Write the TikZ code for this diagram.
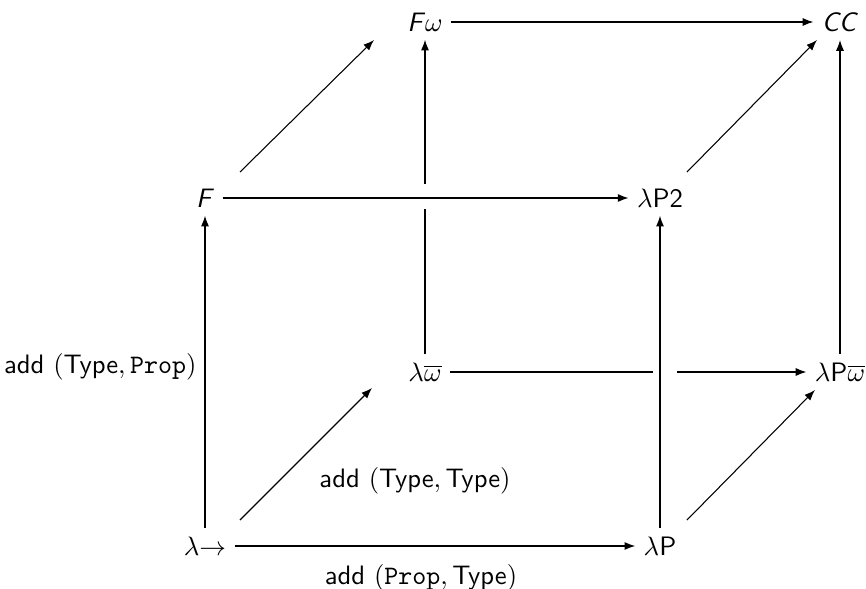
\documentclass[tikz,border=0pt]{standalone}
\usetikzlibrary{arrows.meta,calc}
\renewcommand{\familydefault}{\sfdefault}
\begin{document}
\begin{tikzpicture}[x=0.375pt,y=-0.375pt,
  obj/.style={inner sep=3pt, font=\sffamily},
  arr/.style={-{Latex[length=4pt,width=3pt]}, line width=0.4pt},
  seg/.style={line width=0.4pt},
  lbl/.style={inner sep=0pt, font=\sffamily}]
\useasboundingbox (0,0) rectangle (866,589);
\node[obj] (l)   at (205,546) {$\lambda{\to}$};
\node[obj] (lp)  at (660,546) {$\lambda$P};
\node[obj] (lw)  at (425,372) {$\lambda\overline{\omega}$};
\node[obj] (lpw) at (840,372) {$\lambda$P$\overline{\omega}$};
\node[obj] (f)   at (205,198) {\textit{F}};
\node[obj] (lp2) at (660,198) {$\lambda$P2};
\node[obj] (fw)  at (425,22)  {\textit{F}$\omega$};
\node[obj] (cc)  at (840,22)  {\textit{CC}};
\coordinate (g1a) at (425,209);
\coordinate (g1b) at (425,184);
\coordinate (g2a) at (653,372);
\coordinate (g2b) at (677,372);
\draw[arr] (l) -- (lp);
\draw[arr] (l) -- (f);
\draw[arr] ($(l)+(35,-26)$) -- ($(lw)+(-53,16)$);
\draw[arr] (lp) -- (lp2);
\draw[arr] ($(lp)+(27,-26)$) -- ($(lpw)+(-25,18)$);
\draw[seg] (lw) -- (g2a);
\draw[arr] (g2b) -- (lpw);
\draw[seg] (lw) -- (g1a);
\draw[arr] (g1b) -- (fw);
\draw[arr] (f) -- (lp2);
\draw[arr] ($(f)+(35,-26)$) -- ($(fw)+(-51,18)$);
\draw[arr] ($(lp2)+(27,-26)$) -- ($(cc)+(-23,18)$);
\draw[arr] (lpw) -- (cc);
\draw[arr] (fw) -- (cc);
\node[lbl, anchor=east] (t1) at (197,367) {add $(\mathsf{Type},\mathtt{Prop})$};
\node[lbl] (t2) at (415,481) {add $(\mathsf{Type},\mathsf{Type})$};
\node[lbl] (t3) at (421,578) {add $(\mathtt{Prop},\mathsf{Type})$};
\end{tikzpicture}
\end{document}
